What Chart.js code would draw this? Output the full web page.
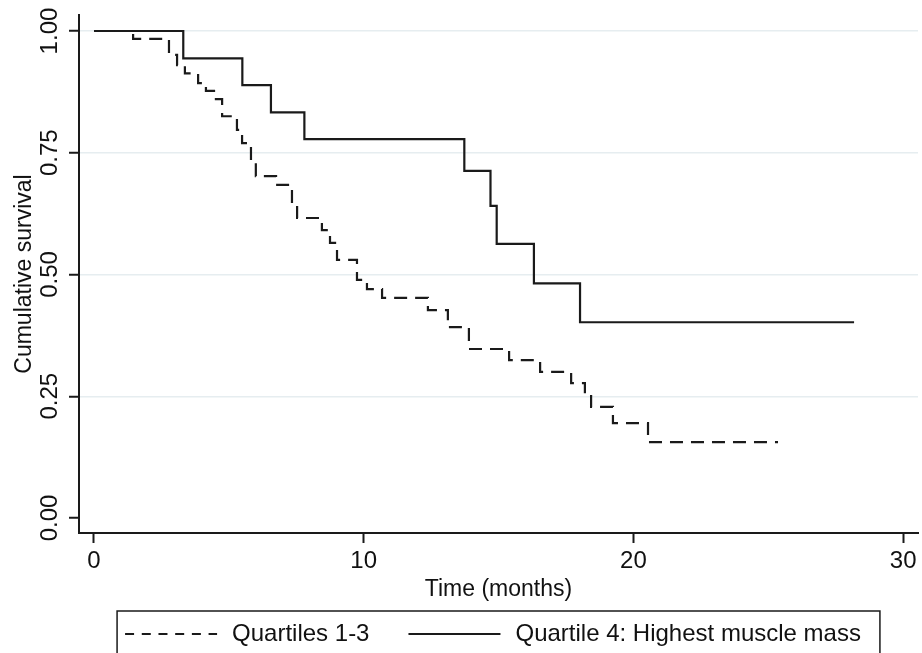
<!DOCTYPE html>
<html lang="en">
<head>
  <meta charset="UTF-8" />
  <title>Cumulative survival by muscle mass</title>
  <script src="https://cdn.jsdelivr.net/npm/chart.js"></script>
  <style>
    html, body { margin: 0; padding: 0; background: #fff; }
    #wrap { width: 922px; height: 653px; }
  </style>
</head>
<body>
  <div id="wrap">
    <canvas id="kmChart" width="922" height="653"></canvas>
  </div>

  <script>
    // Kaplan-Meier steps (time in months, survival after each drop)
    const q13Time = [0, 1.45, 2.78, 3.08, 3.37, 3.86, 4.15, 4.45, 4.75, 5.30, 5.49, 5.82, 6.00, 6.75, 7.34, 7.53,
                     8.45, 8.75, 9.01, 9.75, 10.12, 10.68, 12.38, 13.12, 13.90, 15.39, 16.54, 17.69, 18.20, 18.43,
                     19.24, 20.54, 25.36];
    const q13Surv = [1.00, 0.984, 0.951, 0.930, 0.913, 0.893, 0.877, 0.860, 0.825, 0.797, 0.770, 0.735, 0.702, 0.684,
                     0.643, 0.616, 0.591, 0.565, 0.530, 0.489, 0.470, 0.452, 0.427, 0.392, 0.347, 0.324, 0.300, 0.277,
                     0.255, 0.228, 0.195, 0.156, 0.156];

    const q4Time = [0, 3.31, 5.50, 6.56, 7.80, 13.73, 14.70, 14.93, 16.31, 18.02, 28.18];
    const q4Surv = [1.00, 0.944, 0.889, 0.833, 0.778, 0.713, 0.641, 0.563, 0.482, 0.402, 0.402];

    const seriesLabels = ['Quartiles 1-3', 'Quartile 4: Highest muscle mass'];
    const xTicks = [0, 10, 20, 30];
    const yTicks = [0, 0.25, 0.5, 0.75, 1];

    const ink = '#1a1a1a';
    const FONT = '"Liberation Sans", Arial, sans-serif';

    const toPoints = (xs, ys) => xs.map((x, i) => ({ x, y: ys[i] }));

    // stata-like boxed legend under the plot
    const boxLegend = {
      id: 'boxLegend',
      afterDraw(chart) {
        const { ctx, chartArea } = chart;
        const items = chart.data.datasets.map(ds => ({ text: ds.label, dash: ds.borderDash || [] }));
        ctx.save();
        ctx.font = '24px ' + FONT;
        const sample = 92, gapText = 15, gapItem = 39, padL = 8, padR = 19;
        let total = padL + padR;
        items.forEach((it, i) => {
          it.w = ctx.measureText(it.text).width;
          total += sample + gapText + it.w + (i > 0 ? gapItem : 0);
        });
        const left = (chartArea.left + chartArea.right) / 2 - total / 2;
        const top = 611, cy = 634;
        ctx.strokeStyle = ink;
        ctx.lineWidth = 1.5;
        ctx.strokeRect(left, top, total, 80);

        let x = left + padL;
        ctx.fillStyle = '#111';
        ctx.textBaseline = 'middle';
        items.forEach((it, i) => {
          if (i > 0) x += gapItem;
          ctx.beginPath();
          ctx.setLineDash(it.dash.length ? [9, 7.7] : []);
          ctx.lineWidth = 1.8;
          ctx.moveTo(x, cy);
          ctx.lineTo(x + sample, cy);
          ctx.stroke();
          ctx.setLineDash([]);
          x += sample + gapText;
          ctx.fillText(it.text, x, cy);
          x += it.w;
        });
        ctx.restore();
      }
    };

    const ctx = document.getElementById('kmChart').getContext('2d');
    new Chart(ctx, {
      type: 'line',
      data: {
        datasets: [
          {
            label: seriesLabels[0],
            data: toPoints(q13Time, q13Surv),
            borderColor: ink,
            borderWidth: 2.2,
            borderDash: [13, 8],
            stepped: 'before',
            pointRadius: 0,
            fill: false
          },
          {
            label: seriesLabels[1],
            data: toPoints(q4Time, q4Surv),
            borderColor: ink,
            borderWidth: 2.2,
            stepped: 'before',
            pointRadius: 0,
            fill: false
          }
        ]
      },
      options: {
        responsive: false,
        animation: false,
        layout: { padding: { top: 15, right: 4, left: 0, bottom: 0 } },
        plugins: {
          legend: { display: false },
          tooltip: { enabled: false }
        },
        scales: {
          x: {
            type: 'linear',
            min: -0.556,
            max: 30.55,
            afterBuildTicks: s => { s.ticks = xTicks.map(v => ({ value: v })); },
            afterFit: s => { s.height = 120; },
            ticks: {
              color: '#111',
              font: { family: FONT, size: 24 },
              padding: 4,
              maxRotation: 0,
              autoSkip: false
            },
            grid: {
              drawOnChartArea: false,
              tickLength: 10,
              tickColor: ink,
              tickWidth: 2
            },
            border: { display: true, color: ink, width: 2 },
            title: {
              display: true,
              text: 'Time (months)',
              color: '#111',
              font: { family: FONT, size: 23 },
              padding: { top: 0, bottom: 50 }
            }
          },
          y: {
            type: 'linear',
            min: -0.0308,
            max: 1.0329,
            afterBuildTicks: s => { s.ticks = yTicks.map(v => ({ value: v })); },
            afterFit: s => { s.width = 79; },
            ticks: {
              color: '#111',
              font: { family: FONT, size: 24 },
              minRotation: 90,
              maxRotation: 90,
              crossAlign: 'center',
              padding: -4.3,
              autoSkip: false,
              callback: v => Number(v).toFixed(2)
            },
            grid: {
              color: c => (c.tick && c.tick.value === 0 ? 'rgba(0,0,0,0)' : '#e6edf0'),
              lineWidth: 1.5,
              tickLength: 10,
              tickColor: ink,
              tickWidth: 2
            },
            border: { display: true, color: ink, width: 2 },
            title: {
              display: true,
              text: 'Cumulative survival',
              color: '#111',
              font: { family: FONT, size: 23 },
              padding: { top: 11, bottom: 0 }
            }
          }
        }
      },
      plugins: [boxLegend]
    });
  </script>
</body>
</html>
